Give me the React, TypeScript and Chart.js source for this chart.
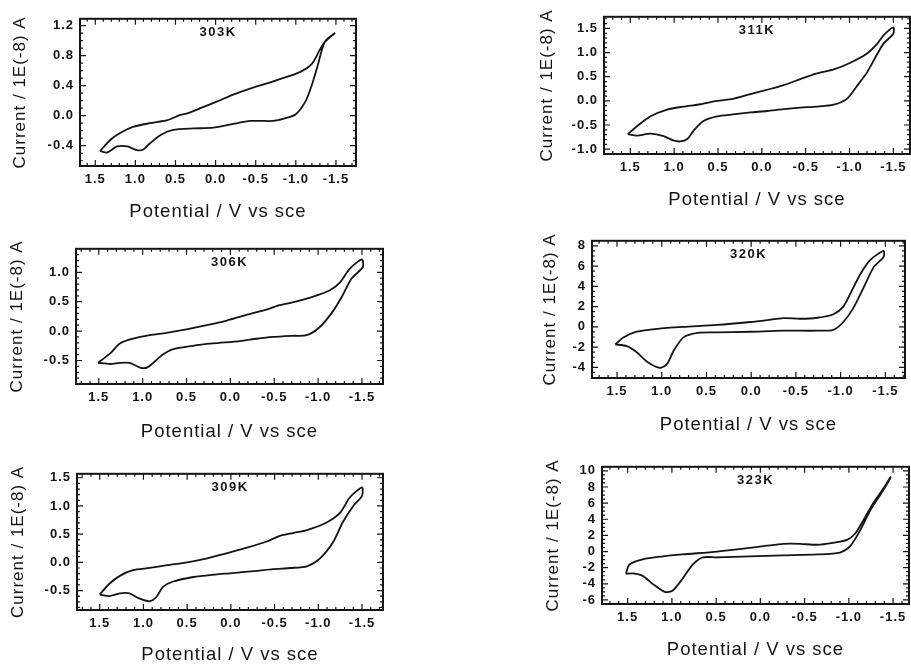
import React, { useEffect, useRef } from 'react';
import { Chart, registerables } from 'chart.js';

Chart.register(...registerables);

// ---- shared axis text / ticks ----
const X_TICKS = [1.5, 1.0, 0.5, 0.0, -0.5, -1.0, -1.5];
const X_TITLE = 'Potential / V vs sce';
const Y_TITLE = 'Current / 1E(-8) A';

// ---- 303K ----
const V_303K = [1.44, 1.31, 1.19, 1.03, 0.82, 0.60, 0.44, 0.35, 0.19, -0.02, -0.22, -0.43, -0.64, -0.84, -1.05, -1.20, -1.30, -1.36, -1.49,
  -1.36, -1.26, -1.20, -1.12, -1.00, -0.85, -0.72, -0.43, -0.22, 0.03, 0.28, 0.53, 0.69, 0.82, 0.90, 0.98, 1.10, 1.23, 1.35, 1.44];
const I_303K = [-0.47, -0.32, -0.23, -0.15, -0.10, -0.06, 0.01, 0.03, 0.10, 0.19, 0.28, 0.36, 0.43, 0.50, 0.58, 0.69, 0.88, 0.98, 1.10,
  0.98, 0.62, 0.41, 0.19, 0.02, -0.04, -0.07, -0.07, -0.11, -0.16, -0.17, -0.19, -0.26, -0.37, -0.45, -0.46, -0.41, -0.41, -0.49, -0.47];
const Y_TICKS_303K = [-0.4, 0.0, 0.4, 0.8, 1.2];

// ---- 311K ----
const V_311K = [1.53, 1.42, 1.27, 1.08, 0.90, 0.70, 0.51, 0.33, 0.13, -0.06, -0.24, -0.44, -0.63, -0.82, -1.01, -1.20, -1.32, -1.39, -1.50,
  -1.50, -1.39, -1.32, -1.20, -1.09, -0.97, -0.82, -0.63, -0.44, -0.25, -0.06, 0.13, 0.33, 0.51, 0.67, 0.78, 0.85, 0.93, 1.01, 1.12, 1.27, 1.42, 1.53];
const I_311K = [-0.69, -0.52, -0.32, -0.18, -0.12, -0.07, 0.00, 0.04, 0.14, 0.23, 0.32, 0.45, 0.57, 0.65, 0.79, 0.98, 1.19, 1.36, 1.52,
  1.39, 1.19, 0.98, 0.59, 0.32, 0.04, -0.08, -0.12, -0.14, -0.17, -0.21, -0.24, -0.28, -0.32, -0.42, -0.62, -0.79, -0.84, -0.82, -0.73, -0.68, -0.72, -0.69];
const Y_TICKS_311K = [-1.0, -0.5, 0.0, 0.5, 1.0, 1.5];

// ---- 306K ----
const V_306K = [1.51, 1.37, 1.26, 1.11, 0.92, 0.73, 0.50, 0.27, 0.04, -0.19, -0.42, -0.56, -0.71, -0.91, -1.13, -1.25, -1.36, -1.50,
  -1.51, -1.38, -1.28, -1.17, -1.02, -0.87, -0.71, -0.48, -0.30, -0.11, 0.20, 0.43, 0.66, 0.77, 0.88, 0.95, 1.03, 1.15, 1.26, 1.37, 1.51];
const I_306K = [-0.54, -0.38, -0.21, -0.13, -0.07, -0.03, 0.03, 0.10, 0.18, 0.28, 0.37, 0.44, 0.49, 0.57, 0.69, 0.83, 1.06, 1.22,
  1.09, 0.89, 0.61, 0.34, 0.07, -0.07, -0.08, -0.10, -0.13, -0.17, -0.21, -0.25, -0.31, -0.40, -0.54, -0.62, -0.62, -0.54, -0.54, -0.56, -0.54];
const Y_TICKS_306K = [-0.5, 0.0, 0.5, 1.0];

// ---- 320K ----
const V_320K = [1.52, 1.43, 1.28, 1.05, 0.76, 0.38, 0.01, -0.18, -0.36, -0.55, -0.74, -0.92, -1.03, -1.11, -1.22, -1.33, -1.48,
  -1.48, -1.37, -1.25, -1.14, -1.03, -0.92, -0.74, -0.36, 0.01, 0.38, 0.60, 0.76, 0.87, 0.94, 1.02, 1.16, 1.28, 1.39, 1.52];
const I_320K = [-1.73, -1.06, -0.48, -0.19, 0.00, 0.19, 0.48, 0.67, 0.87, 0.80, 0.90, 1.25, 2.0, 3.3, 5.2, 6.6, 7.5,
  6.9, 5.9, 3.75, 1.83, 0.48, -0.29, -0.38, -0.38, -0.48, -0.55, -0.60, -1.06, -2.40, -3.65, -4.05, -3.46, -2.50, -1.90, -1.73];
const Y_TICKS_320K = [-4, -2, 0, 2, 4, 6, 8];

// ---- 309K ----
const V_309K = [1.50, 1.39, 1.27, 1.12, 0.93, 0.73, 0.50, 0.27, 0.05, -0.18, -0.41, -0.56, -0.71, -0.87, -1.10, -1.25, -1.36, -1.50,
  -1.50, -1.40, -1.28, -1.17, -1.02, -0.87, -0.68, -0.48, -0.30, -0.02, 0.21, 0.43, 0.66, 0.78, 0.85, 0.93, 1.05, 1.16, 1.27, 1.39, 1.50];
const I_309K = [-0.57, -0.38, -0.24, -0.14, -0.10, -0.05, 0.00, 0.07, 0.16, 0.26, 0.37, 0.47, 0.52, 0.57, 0.71, 0.88, 1.15, 1.33,
  1.18, 1.00, 0.71, 0.36, 0.07, -0.07, -0.10, -0.12, -0.15, -0.19, -0.22, -0.26, -0.34, -0.44, -0.61, -0.69, -0.64, -0.55, -0.55, -0.60, -0.57];
const Y_TICKS_309K = [-0.5, 0.0, 0.5, 1.0, 1.5];

// ---- 323K ----
const V_323K = [1.52, 1.48, 1.33, 1.10, 0.88, 0.49, 0.12, -0.07, -0.26, -0.45, -0.64, -0.82, -0.98, -1.07, -1.16, -1.27, -1.39, -1.47,
  -1.45, -1.36, -1.24, -1.13, -1.01, -0.90, -0.64, -0.26, 0.12, 0.49, 0.65, 0.76, 0.88, 0.99, 1.08, 1.22, 1.33, 1.44, 1.52];
const I_323K = [-2.75, -1.60, -0.96, -0.60, -0.36, 0.00, 0.45, 0.72, 0.96, 0.96, 0.84, 1.08, 1.45, 2.2, 3.8, 5.9, 7.8, 9.2,
  8.7, 7.1, 5.06, 2.65, 0.60, -0.12, -0.36, -0.48, -0.60, -0.72, -0.72, -1.57, -3.37, -4.82, -5.0, -3.98, -3.01, -2.70, -2.75];
const Y_TICKS_323K = [-6, -4, -2, 0, 2, 4, 6, 8, 10];

const FONT = '"Liberation Sans", Arial, Helvetica, sans-serif';
const INK = '#141414';
const Y_TITLE_SIZE = 17;
const X_TITLE_SIZE = 18.5;
const TICK_SIZE = 13;

const PANELS = [
  { label: '303K', v: V_303K, i: I_303K, yTicks: Y_TICKS_303K, yDec: 1, yMinor: 0.1,
    xMin: -1.75, xMax: 1.69, yMin: -0.67, yMax: 1.29, frame: { l: 80, t: 15, r: 356, b: 166 }, yTitleX: 20, xTitleY: 212 },
  { label: '311K', v: V_311K, i: I_311K, yTicks: Y_TICKS_311K, yDec: 1, yMinor: 0.1,
    xMin: -1.69, xMax: 1.80, yMin: -1.1, yMax: 1.74, frame: { l: 604, t: 13, r: 910, b: 154 }, yTitleX: 547, xTitleY: 200 },
  { label: '306K', v: V_306K, i: I_306K, yTicks: Y_TICKS_306K, yDec: 1, yMinor: 0.1,
    xMin: -1.74, xMax: 1.76, yMin: -0.9, yMax: 1.4, frame: { l: 76, t: 245, r: 383, b: 384 }, yTitleX: 17, xTitleY: 432 },
  { label: '320K', v: V_320K, i: I_320K, yTicks: Y_TICKS_320K, yDec: 0, yMinor: 0.5,
    xMin: -1.72, xMax: 1.78, yMin: -5.05, yMax: 8.5, frame: { l: 592, t: 237, r: 905, b: 378 }, yTitleX: 550, xTitleY: 425 },
  { label: '309K', v: V_309K, i: I_309K, yTicks: Y_TICKS_309K, yDec: 1, yMinor: 0.1,
    xMin: -1.74, xMax: 1.76, yMin: -0.845, yMax: 1.57, frame: { l: 77, t: 470, r: 383, b: 610 }, yTitleX: 18, xTitleY: 655 },
  { label: '323K', v: V_323K, i: I_323K, yTicks: Y_TICKS_323K, yDec: 0, yMinor: 0.5,
    xMin: -1.68, xMax: 1.79, yMin: -6.5, yMax: 10.5, frame: { l: 602, t: 463, r: 909, b: 604 }, yTitleX: 553, xTitleY: 650 },
];

function makeFramePlugin(p: any) {
  return {
    id: 'frame_' + p.label,
    beforeDraw(chart: any) {
      chart.ctx.letterSpacing = '1px';
    },
    afterDatasetsDraw(chart: any) {
      const { ctx, chartArea: a, scales } = chart;
      const xs = scales.x;
      const ys = scales.y;
      ctx.save();
      ctx.strokeStyle = INK;
      ctx.lineWidth = 1.2;
      const isMajor = (val: number, majors: number[]) => majors.some((m) => Math.abs(m - val) < 1e-6);
      const xStep = 0.1;
      for (let k = Math.ceil(p.xMin / xStep - 1e-9); k <= Math.floor(p.xMax / xStep + 1e-9); k++) {
        const val = +(k * xStep).toFixed(4);
        const px = xs.getPixelForValue(val);
        const len = isMajor(val, X_TICKS) ? 6 : 3;
        ctx.beginPath();
        ctx.moveTo(px, a.bottom); ctx.lineTo(px, a.bottom - len);
        ctx.moveTo(px, a.top); ctx.lineTo(px, a.top + len);
        ctx.stroke();
      }
      const yStep = p.yMinor;
      for (let k = Math.ceil(p.yMin / yStep - 1e-9); k <= Math.floor(p.yMax / yStep + 1e-9); k++) {
        const val = +(k * yStep).toFixed(4);
        const py = ys.getPixelForValue(val);
        const len = isMajor(val, p.yTicks) ? 6 : 3;
        ctx.beginPath();
        ctx.moveTo(a.left, py); ctx.lineTo(a.left + len, py);
        ctx.moveTo(a.right, py); ctx.lineTo(a.right - len, py);
        ctx.stroke();
      }
      ctx.lineWidth = 2;
      ctx.strokeRect(a.left, a.top, a.right - a.left, a.bottom - a.top);
      ctx.fillStyle = INK;
      ctx.font = 'bold 13px ' + FONT;
      ctx.textAlign = 'center';
      ctx.textBaseline = 'middle';
      ctx.letterSpacing = '1.5px';
      ctx.fillText(p.label, (a.left + a.right) / 2, a.top + 14);
      ctx.restore();
    },
  };
}

function Panel({ p }: { p: any }) {
  const ref = useRef<HTMLCanvasElement>(null);
  const left = Math.round(p.yTitleX - (Y_TITLE_SIZE * 1.2) / 2);
  const top = p.frame.t - 10;
  const right = Math.min(911, p.frame.r + 6);
  const bottom = Math.round(p.xTitleY + (X_TITLE_SIZE * 1.2) / 2);
  const w = right - left;
  const h = bottom - top;

  useEffect(() => {
    const chart = new Chart(ref.current as HTMLCanvasElement, {
      type: 'scatter',
      data: {
        datasets: [
          {
            data: p.v.map((x: number, k: number) => ({ x, y: p.i[k] })),
            showLine: true,
            borderColor: INK,
            borderWidth: 1.8,
            pointRadius: 0,
            tension: 0.25,
            fill: false,
          } as any,
        ],
      },
      options: {
        responsive: false,
        animation: false,
        devicePixelRatio: 1,
        events: [],
        layout: { padding: { top: p.frame.t - top, right: right - p.frame.r, left: 0, bottom: 0 } },
        plugins: { legend: { display: false }, tooltip: { enabled: false }, title: { display: false } },
        scales: {
          x: {
            type: 'linear',
            reverse: true,
            min: p.xMin,
            max: p.xMax,
            afterFit: (s: any) => { s.height = bottom - p.frame.b; },
            afterBuildTicks: (s: any) => { s.ticks = X_TICKS.map((value) => ({ value })); },
            grid: { display: false, drawTicks: false },
            border: { display: false },
            ticks: {
              padding: 6,
              color: INK,
              autoSkip: false,
              maxRotation: 0,
              font: { family: FONT, size: TICK_SIZE, weight: 'bold' },
              callback: (v: any) => Number(v).toFixed(1),
            },
            title: { display: true, text: X_TITLE, padding: 0, color: INK, font: { family: FONT, size: X_TITLE_SIZE } },
          },
          y: {
            type: 'linear',
            min: p.yMin,
            max: p.yMax,
            afterFit: (s: any) => { s.width = p.frame.l - left; },
            afterBuildTicks: (s: any) => { s.ticks = p.yTicks.map((value: number) => ({ value })); },
            grid: { display: false, drawTicks: false },
            border: { display: false },
            ticks: {
              padding: 6,
              color: INK,
              autoSkip: false,
              font: { family: FONT, size: TICK_SIZE, weight: 'bold' },
              callback: (v: any) => Number(v).toFixed(p.yDec),
            },
            title: { display: true, text: Y_TITLE, padding: 0, color: INK, font: { family: FONT, size: Y_TITLE_SIZE } },
          },
        },
      } as any,
      plugins: [makeFramePlugin(p)],
    });
    return () => chart.destroy();
  }, []);

  return (
    <canvas
      ref={ref}
      width={w}
      height={h}
      style={{ position: 'absolute', left, top, width: w, height: h, display: 'block' }}
    />
  );
}

export default function App() {
  return (
    <div style={{ position: 'absolute', left: 0, top: 0, width: 911, height: 664, overflow: 'hidden', background: '#fff' }}>
      {PANELS.map((p) => (
        <Panel key={p.label} p={p} />
      ))}
    </div>
  );
}
